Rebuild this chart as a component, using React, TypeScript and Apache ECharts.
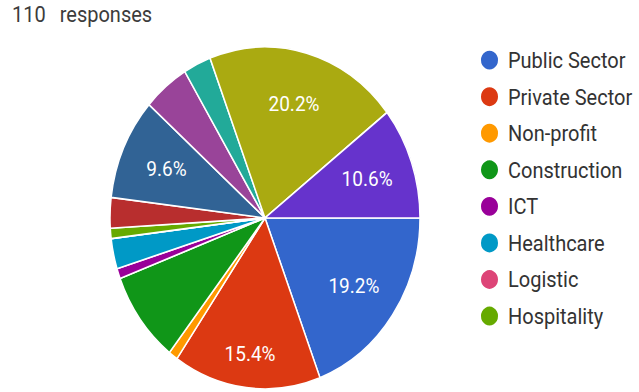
import React, { useEffect, useRef } from "react";
import * as echarts from "echarts";

// Values (percentages imply 104 answers to this question)
const categories = [
  "Public Sector",
  "Private Sector",
  "Non-profit",
  "Construction",
  "ICT",
  "Healthcare",
  "Logistic",
  "Hospitality",
  "Option 9",
  "Option 10",
  "Option 11",
  "Option 12",
  "Option 13",
  "Option 14",
];
const counts = [20, 16, 1, 9, 1, 3, 0, 1, 3, 10, 5, 3, 21, 11];
const colors = [
  "#3366cc",
  "#dc3912",
  "#ff9900",
  "#109618",
  "#990099",
  "#0099c6",
  "#dd4477",
  "#66aa00",
  "#b82e2e",
  "#316395",
  "#994499",
  "#22aa99",
  "#aaaa11",
  "#6633cc",
];
const legendItems = categories.slice(0, 8);
const titleCount = "110";
const titleWord = "responses";

const STRETCH = 1.103;
const W = 639;
const H = 392 / STRETCH;

export default function App() {
  const ref = useRef<HTMLDivElement>(null);

  useEffect(() => {
    if (!ref.current) return;
    const chart = echarts.init(ref.current, undefined, { renderer: "svg" });
    const total = counts.reduce((a, b) => a + b, 0);
    const pct = (v: number) => ((v / total) * 100).toFixed(1) + "%";
    const showLabel = (v: number) => v / total >= 0.09;

    const mainData = categories.map((name, i) => ({
      name,
      value: counts[i],
      itemStyle: { color: colors[i] },
    }));

    const labelRing = (r0: number, r1: number, pick: (i: number) => boolean) => ({
      type: "pie",
      silent: true,
      radius: [r0, r1],
      center: [265, 197.6],
      startAngle: 0,
      clockwise: true,
      avoidLabelOverlap: false,
      emphasis: { disabled: true },
      labelLine: { show: false },
      itemStyle: { color: "rgba(0,0,0,0)", borderWidth: 0 },
      data: categories.map((name, i) => ({
        name,
        value: counts[i],
        label: {
          show: showLabel(counts[i]) && pick(i),
          position: "inside",
          formatter: pct(counts[i]),
          color: "#ffffff",
          fontSize: 19,
          fontFamily: "Roboto, Arial, sans-serif",
        },
      })),
    });

    chart.setOption({
      animation: false,
      color: colors,
      title: {
        text: `{a|${titleCount}}{b|${titleWord}}`,
        left: 12,
        top: 3,
        padding: 0,
        textStyle: {
          fontWeight: "normal",
          rich: {
            a: { fontSize: 20, fontWeight: "normal", color: "#3c3c3c", fontFamily: "Roboto, Arial, sans-serif", padding: [0, 14, 0, 0] },
            b: { fontSize: 20, fontWeight: "normal", color: "#3c3c3c", fontFamily: "Roboto, Arial, sans-serif" },
          },
        },
      },
      legend: {
        data: legendItems,
        orient: "vertical",
        left: 479,
        top: 44,
        padding: 0,
        icon: "circle",
        itemWidth: 21,
        itemHeight: 19,
        itemGap: 12.15,
        selectedMode: false,
        textStyle: {
          fontSize: 20,
          lineHeight: 19,
          color: "#333333",
          fontFamily: "Roboto, Arial, sans-serif",
          padding: [0, 0, 0, 3],
        },
      },
      series: [
        {
          type: "pie",
          radius: [0, 155],
          center: [265, 197.6],
          startAngle: 0,
          clockwise: true,
          silent: true,
          label: { show: false },
          labelLine: { show: false },
          itemStyle: { borderColor: "#ffffff", borderWidth: 1.5 },
          data: mainData,
        },
        labelRing(60, 150, (i) => i !== 1),
        labelRing(92, 150, (i) => i === 1),
      ],
    });

    return () => chart.dispose();
  }, []);

  return (
    <div
      style={{
        position: "fixed",
        left: 0,
        top: 0,
        width: W,
        height: 392,
        overflow: "hidden",
        background: "#ffffff",
      }}
    >
      <div
        ref={ref}
        style={{
          width: W,
          height: H,
          transform: `scaleY(${STRETCH})`,
          transformOrigin: "0 0",
        }}
      />
    </div>
  );
}
